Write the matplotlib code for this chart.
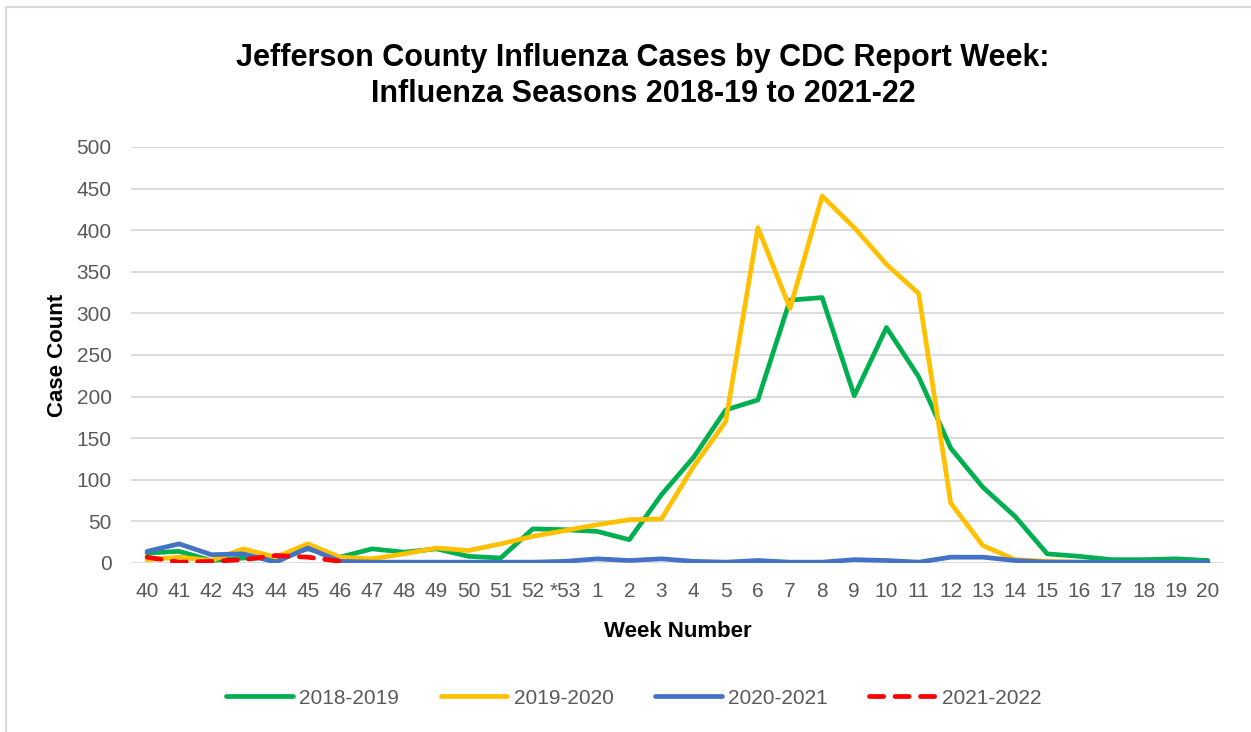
import matplotlib
matplotlib.use("Agg")
import matplotlib.pyplot as plt
from matplotlib.lines import Line2D

weeks = ["40", "41", "42", "43", "44", "45", "46", "47", "48", "49", "50", "51", "52", "*53",
         "1", "2", "3", "4", "5", "6", "7", "8", "9", "10", "11", "12", "13", "14", "15", "16",
         "17", "18", "19", "20"]

s2018_19 = [12, 14, 3, 6, 6, 17, 7, 17, 13, 17, 8, 6, 41, 40, 38, 28, 82, 127, 184, 196, 316, 319,
            201, 283, 224, 138, 91, 56, 11, 8, 4, 4, 5, 3]
s2019_20 = [4, 7, 3, 17, 7, 23, 7, 5, 11, 18, 15, 23, 32, 39, 46, 52, 53, 116, 170, 403, 306, 441,
            403, 359, 324, 72, 21, 4, 2, 1, 0, 0, 0, 0]
s2020_21 = [14, 23, 10, 11, 1, 18, 2, 1, 1, 1, 1, 1, 1, 2, 5, 3, 5, 2, 1, 3, 1, 1,
            4, 3, 1, 7, 7, 3, 1, 1, 1, 1, 1, 1]
s2021_22 = [7, 1, 2, 4, 9, 7, 2]

series_names = ["2018-2019", "2019-2020", "2020-2021", "2021-2022"]
colors = ["#00B050", "#FFC000", "#4472C4", "#FF0000"]

plt.rcParams['font.family'] = ['Liberation Sans Narrow', 'Liberation Sans', 'DejaVu Sans']

fig = plt.figure(figsize=(12.51, 7.32), dpi=100)
ax = fig.add_axes([131/1251, 1 - 563/732, (1224-131)/1251, (563-147)/732])

x = list(range(len(weeks)))
lw = 3.4
dash = (0, (3.0, 2.4))
ax.plot(x, s2018_19, color=colors[0], lw=lw, solid_joinstyle='round', solid_capstyle='round', zorder=3)
ax.plot(x, s2019_20, color=colors[1], lw=lw, solid_joinstyle='round', solid_capstyle='round', zorder=4)
ax.plot(x, s2020_21, color=colors[2], lw=lw, solid_joinstyle='round', solid_capstyle='round', zorder=5)
ax.plot(x[:len(s2021_22)], s2021_22, color=colors[3], lw=lw, linestyle=dash,
        dash_capstyle='round', zorder=6)

ax.set_xlim(-0.5, len(weeks) - 0.5)
ax.set_ylim(0, 500)
ax.set_yticks(range(0, 501, 50))
ax.set_xticks(x)
ax.set_xticklabels(weeks)
ax.grid(axis='y', color='#D9D9D9', lw=1.3)
ax.set_axisbelow(True)
for sp in ax.spines.values():
    sp.set_visible(False)
ax.tick_params(axis='both', length=0, labelsize=15, colors='#595959')
ax.tick_params(axis='x', pad=14)
ax.tick_params(axis='y', pad=14)

ax.set_xlabel("Week Number", fontsize=16, fontweight='bold', color='black', labelpad=14)
ax.set_ylabel("Case Count", fontsize=16, fontweight='bold', color='black', labelpad=6)

fig.text(643/1251, 1 - 76/732, "Jefferson County Influenza Cases by CDC Report Week:\nInfluenza Seasons 2018-19 to 2021-22",
         ha='center', va='center', fontsize=22, fontweight='bold', linespacing=1.3)

handles = [
    Line2D([], [], color=colors[0], lw=lw, solid_capstyle='round'),
    Line2D([], [], color=colors[1], lw=lw, solid_capstyle='round'),
    Line2D([], [], color=colors[2], lw=lw, solid_capstyle='round'),
    Line2D([], [], color=colors[3], lw=lw, linestyle=dash, dash_capstyle='round'),
]
leg = fig.legend(handles, series_names, loc='center', bbox_to_anchor=(634/1251, 1 - 698/732),
                 ncol=4, frameon=False, fontsize=15, handlelength=3.2, columnspacing=2.0,
                 handletextpad=0.3)
for t in leg.get_texts():
    t.set_color('#595959')

# outer chart border (left and top visible)
fig.add_artist(Line2D([6/1251, 6/1251], [0, 1 - 7/732], color='#D9D9D9', lw=1.5, transform=fig.transFigure))
fig.add_artist(Line2D([6/1251, 1], [1 - 7/732, 1 - 7/732], color='#D9D9D9', lw=1.5, transform=fig.transFigure))

fig.savefig("out.png", dpi=100)
